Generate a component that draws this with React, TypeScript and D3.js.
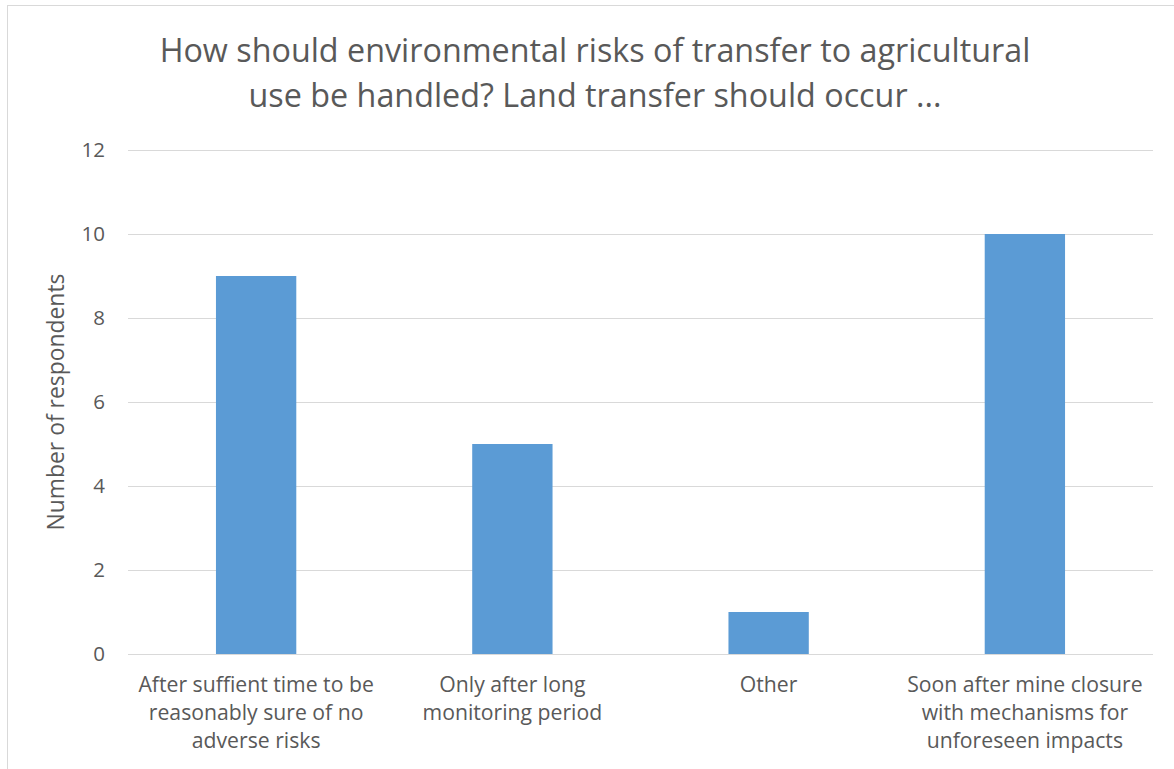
import React from "react";
import * as d3 from "d3";

// Survey responses: how land transfer to agricultural use should be timed
const categories: string[] = [
  "After suffient time to be reasonably sure of no adverse risks",
  "Only after long monitoring period",
  "Other",
  "Soon after mine closure with mechanisms for unforeseen impacts",
];
const categoryLines: string[][] = [
  ["After suffient time to be", "reasonably sure of no", "adverse risks"],
  ["Only after long", "monitoring period"],
  ["Other"],
  ["Soon after mine closure", "with mechanisms for", "unforeseen impacts"],
];
const respondents: number[] = [9, 5, 1, 10];
const yTicks: number[] = [0, 2, 4, 6, 8, 10, 12];
const titleLines: string[] = [
  "How should environmental risks of transfer to agricultural",
  "use be handled? Land transfer should occur ...",
];
const yAxisTitle = "Number of respondents";

const W = 1174;
const H = 769;
const FONT = "'Open Sans', 'Noto Sans', 'DejaVu Sans', sans-serif";
const TEXT = "#595959";
const GRID = "#d9d9d9";
const BAR = "#5b9bd5";

export default function App() {
  const plotLeft = 128;
  const plotRight = 1153;
  const plotTop = 150;
  const plotBottom = 654;

  const x = d3.scaleBand<string>().domain(categories).range([plotLeft, plotRight]).padding(0);
  const y = d3.scaleLinear().domain([0, 12]).range([plotBottom, plotTop]);
  const barW = x.bandwidth() / 3.19;

  return (
    <svg
      width={W}
      height={H}
      style={{ position: "absolute", left: 0, top: 0, background: "#fff" }}
      fontFamily={FONT}
    >
      <rect x={7.5} y={5.5} width={W + 20} height={H + 20} fill="#fff" stroke={GRID} strokeWidth={1} />

      {titleLines.map((t, i) => (
        <text key={i} x={595} y={62 + i * 45} textAnchor="middle" fontSize={32.3} fill={TEXT}>
          {t}
        </text>
      ))}

      {yTicks.map((t) => (
        <g key={t}>
          <line x1={plotLeft} x2={plotRight} y1={y(t) + 0.5} y2={y(t) + 0.5} stroke={GRID} strokeWidth={1} />
          <text x={105} y={y(t)} dy="0.36em" textAnchor="end" fontSize={20.5} fill={TEXT}>
            {t}
          </text>
        </g>
      ))}

      {categories.map((c, i) => {
        const cx = (x(c) as number) + x.bandwidth() / 2;
        return (
          <rect
            key={c}
            x={cx - barW / 2}
            y={y(respondents[i])}
            width={barW}
            height={y(0) - y(respondents[i])}
            fill={BAR}
          />
        );
      })}

      {categories.map((c, i) => {
        const cx = (x(c) as number) + x.bandwidth() / 2;
        return (
          <text key={c} textAnchor="middle" fontSize={21.2} fill={TEXT}>
            {categoryLines[i].map((ln, j) => (
              <tspan key={j} x={cx} y={692 + j * 28}>
                {ln}
              </tspan>
            ))}
          </text>
        );
      })}

      <text
        transform={`translate(64, ${(plotTop + plotBottom) / 2}) rotate(-90)`}
        textAnchor="middle"
        fontSize={22.9}
        fill={TEXT}
      >
        {yAxisTitle}
      </text>
    </svg>
  );
}
